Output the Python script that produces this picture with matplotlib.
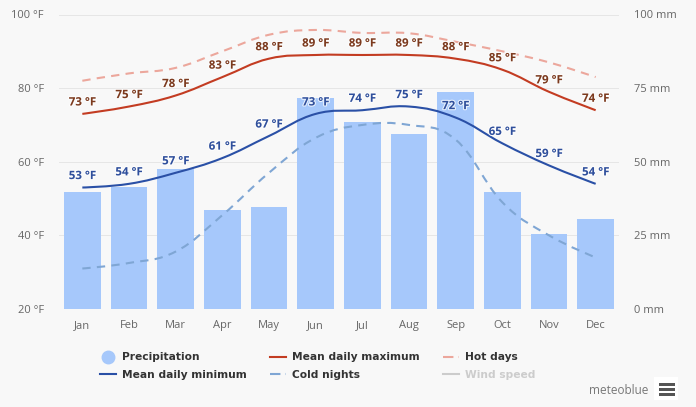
import matplotlib
matplotlib.use('Agg')
import matplotlib.pyplot as plt
import matplotlib.patheffects as pe
from matplotlib.lines import Line2D
from matplotlib.patches import PathPatch, Rectangle
from matplotlib.path import Path

months = ['Jan', 'Feb', 'Mar', 'Apr', 'May', 'Jun', 'Jul', 'Aug', 'Sep', 'Oct', 'Nov', 'Dec']
precip = [39.7, 41.5, 47.5, 33.6, 34.6, 71.6, 63.5, 59.4, 73.7, 39.7, 25.5, 30.6]
mean_max = [73, 75, 78, 83, 88, 89, 89, 89, 88, 85, 79, 74]
mean_min = [53, 54, 57, 61, 67, 73, 74, 75, 72, 65, 59, 54]
hot_days = [82, 84, 85.5, 90, 94.5, 95.8, 95, 94.9, 92.6, 90, 87, 83]
cold_nights = [31, 32.5, 35.6, 45.5, 57, 66.5, 70, 70, 66, 49, 40, 34]
f_ticks = [20, 40, 60, 80, 100]
mm_ticks = [0, 25, 50, 75, 100]

BG = '#f8f8f8'
BAR = '#a6c8fb'
RED = '#c33c22'
BLUE = '#2a50a6'
HOT = '#eca79c'
COLD = '#7fa6d4'
W, H = 696, 407


def spline_path(xs, ys):
    # same smoothing as the web chart's spline series
    verts = [(xs[0], ys[0])]
    codes = [Path.MOVETO]
    right = (xs[0], ys[0])
    for i in range(1, len(xs)):
        x, y = xs[i], ys[i]
        px, py = xs[i - 1], ys[i - 1]
        if i < len(xs) - 1:
            nx, ny = xs[i + 1], ys[i + 1]
            lx, ly = (1.5 * x + px) / 2.5, (1.5 * y + py) / 2.5
            rx, ry = (1.5 * x + nx) / 2.5, (1.5 * y + ny) / 2.5
            corr = (ry - ly) * (rx - x) / (rx - lx) + y - ry
            ly += corr
            ry += corr
        else:
            lx, ly, rx, ry = x, y, x, y
        verts += [right, (lx, ly), (x, y)]
        codes += [Path.CURVE4] * 3
        right = (rx, ry)
    return Path(verts, codes)


fig = plt.figure(figsize=(W / 100, H / 100), dpi=100, facecolor=BG)
ax = fig.add_axes([59 / W, 1 - 309 / H, 560 / W, 294.5 / H], facecolor=BG)
ax_f = ax.twinx()
ax_f.patch.set_visible(False)

x = list(range(12))
ax.bar(x, precip, width=0.79, color=BAR, zorder=2)
ax.set_ylim(0, 100)
ax.set_xlim(-0.5, 11.5)
ax.set_xticks(x, months)
ax.set_yticks(mm_ticks, [f'{t} mm' for t in mm_ticks])
ax.yaxis.tick_right()
ax.grid(axis='y', color='#e6e6e6', lw=0.72, zorder=0)
ax.set_axisbelow(True)

ax_f.set_ylim(20, 100)
ax_f.set_yticks(f_ticks, [f'{t} °F' for t in f_ticks])
ax_f.yaxis.tick_left()

for a in (ax, ax_f):
    for s in a.spines.values():
        s.set_visible(False)
    a.tick_params(length=0, labelsize=8, labelcolor='#666666')
    for t in a.get_xticklabels() + a.get_yticklabels():
        t.set_family('Open Sans')
ax.tick_params(axis='x', pad=8)
ax.tick_params(axis='y', pad=11)
ax_f.tick_params(axis='y', pad=11)

series = [
    (hot_days, HOT, (0, (4, 3))),
    (cold_nights, COLD, (0, (4, 3))),
    (mean_max, RED, '-'),
    (mean_min, BLUE, '-'),
]
for vals, col, ls in series:
    ax_f.add_patch(PathPatch(spline_path(x, vals), fill=False, edgecolor=col,
                             linewidth=1.5, linestyle=ls, capstyle='butt', zorder=3))

halo = [pe.withStroke(linewidth=1.6, foreground='white', alpha=0.75)]
for vals, col in ((mean_max, '#7c3a1e'), (mean_min, '#2f4f9c')):
    for i, v in zip(x, vals):
        ax_f.annotate(f'{v} °F', (i, v), xytext=(0, 8.6), textcoords='offset points',
                      ha='center', va='center', fontsize=8.3, fontweight='bold',
                      family='Open Sans', color=col, path_effects=halo, zorder=4)

handles = [
    Line2D([], [], ls='', marker='o', ms=9, color=BAR),
    Line2D([], [], color=BLUE, lw=1.5),
    Line2D([], [], color=RED, lw=1.5),
    Line2D([], [], color=COLD, lw=1.5, ls=(0, (5, 2.5, 1, 10))),
    Line2D([], [], color=HOT, lw=1.5, ls=(0, (5, 2.5, 1, 10))),
    Line2D([], [], color='#cccccc', lw=1.5),
]
labels = ['Precipitation', 'Mean daily minimum', 'Mean daily maximum',
          'Cold nights', 'Hot days', 'Wind speed']
leg = fig.legend(handles, labels, ncol=3, loc='upper left',
                 bbox_to_anchor=(100 / W, 1 - 352.5 / H), bbox_transform=fig.transFigure,
                 frameon=False, handlelength=1.5, handletextpad=0.55,
                 columnspacing=2.2, labelspacing=0.72, borderpad=0, borderaxespad=0,
                 prop={'family': 'DejaVu Sans', 'weight': 'bold', 'size': 7.7})
for t in leg.get_texts():
    t.set_color('#333333')
leg.get_texts()[-1].set_color('#cccccc')

fig.text(648 / W, 1 - 391 / H, 'meteoblue', ha='right', va='center', fontsize=8.5,
         family='Open Sans', color='#777777')
fig.add_artist(Rectangle((654 / W, 1 - 400 / H), 24 / W, 23 / H, transform=fig.transFigure,
                         facecolor='white', edgecolor='none'))
for top in (383, 388, 393):
    fig.add_artist(Rectangle((659 / W, 1 - (top + 3) / H), 16 / W, 3 / H, transform=fig.transFigure,
                             facecolor='#555555', edgecolor='none'))

fig.savefig('out.png', dpi=100, facecolor=BG)
